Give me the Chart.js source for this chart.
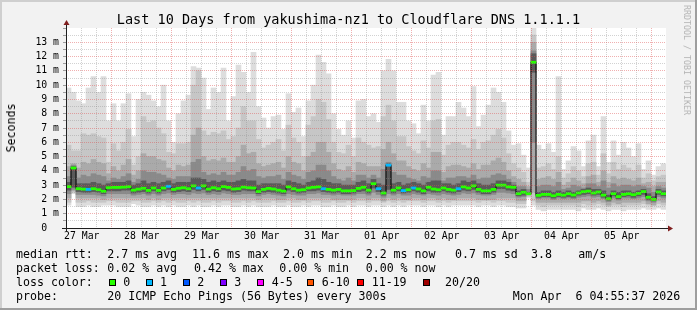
<!DOCTYPE html>
<html>
<head>
<meta charset="utf-8">
<script src="https://cdn.jsdelivr.net/npm/chart.js@4.4.1/dist/chart.umd.min.js"></script>
<style>
html,body{margin:0;padding:0;background:#f2f2f2;}
#wrap{position:relative;width:697px;height:310px;overflow:hidden;}
#c{position:absolute;left:0;top:0;}
.t{position:absolute;font-family:'DejaVu Sans Mono',monospace;white-space:pre;color:#000;}
.box{position:absolute;width:7px;height:7px;box-sizing:border-box;border:1px solid #000;}
</style>
</head>
<body>
<div id="wrap">
<canvas id="c" width="697" height="310"></canvas>
</div>
<script>
// ---------------- data ----------------
const titleText = 'Last 10 Days from yakushima-nz1 to Cloudflare DNS 1.1.1.1';
const yAxisTitle = 'Seconds';
const dayLabels = ['27 Mar','28 Mar','29 Mar','30 Mar','31 Mar','01 Apr','02 Apr','03 Apr','04 Apr','05 Apr'];
const yTickValues = [0,0.5,1,1.5,2,2.5,3,3.5,4,4.5,5,5.5,6,6.5,7,7.5,8,8.5,9,9.5,10,10.5,11,11.5,12,12.5,13,13.5,14];

// median rtt (ms), one value per 2-hour bin
const medianRtt = [
 2.9,4.2,2.75,2.72,2.7,2.75,2.68,2.57,2.82,2.84,
 2.84,2.86,2.89,2.65,2.72,2.78,2.63,2.8,2.63,2.8,
 2.92,2.7,2.78,2.82,2.75,2.95,2.8,2.95,2.72,2.82,
 2.75,2.9,2.84,2.73,2.75,2.86,2.82,2.8,2.55,2.7,
 2.77,2.73,2.65,2.58,2.88,2.75,2.65,2.68,2.8,2.85,
 2.88,2.75,2.7,2.65,2.7,2.6,2.6,2.62,2.77,2.85,
 2.65,3.1,2.75,2.45,4.4,2.65,2.8,2.62,2.68,2.8,
 2.73,2.6,2.85,2.73,2.68,2.8,2.7,2.65,2.75,2.88,
 2.8,2.95,2.7,2.6,2.6,2.7,3.0,3.0,2.88,2.85,
 2.4,2.5,2.4,11.6,2.28,2.35,2.35,2.26,2.35,2.3,
 2.4,2.31,2.45,2.54,2.58,2.45,2.52,2.3,2.05,2.4,
 2.2,2.35,2.4,2.33,2.42,2.55,2.15,2.0,2.52,2.4
];
// packet loss (pings lost of 20) per bin
const lossCount = [
 0,0,0,0,1,0,0,0,0,0,
 0,0,0,0,0,0,0,0,0,0,
 1,0,0,0,0,0,1,0,0,0,
 0,0,0,0,0,0,0,0,0,0,
 0,0,0,0,0,0,0,0,0,0,
 0,1,0,0,0,0,0,0,0,0,
 0,0,1,0,1,0,0,1,0,1,
 0,0,0,0,0,0,0,0,1,0,
 0,0,0,0,0,0,0,0,0,0,
 0,0,0,0,0,0,0,0,0,0,
 0,0,0,0,0,0,0,0,0,0,
 0,0,0,0,0,0,0,0,0,0
];
// smoke: outermost band (min .. max ping)
const smokeLo1 = [
 1.6,2.4,1.5,1.5,1.6,1.5,1.5,1.6,1.6,1.6,
 1.5,1.5,1.5,1.7,1.6,1.5,1.5,1.6,1.5,1.6,
 1.5,1.6,1.5,1.5,1.6,1.5,1.6,1.5,1.5,1.6,
 1.5,1.6,1.6,1.5,1.5,1.6,1.5,1.6,1.5,1.5,
 1.5,1.6,1.5,1.5,1.6,1.5,1.5,1.6,1.5,1.6,
 1.6,1.5,1.5,1.6,1.5,1.5,1.6,1.5,1.6,1.6,
 1.5,1.6,1.6,1.5,1.6,1.5,1.6,1.5,1.6,1.6,
 1.6,1.5,1.6,1.6,1.5,1.6,1.5,1.6,1.6,1.6,
 1.6,1.6,1.5,1.6,1.6,1.5,1.6,1.6,1.5,1.5,
 1.4,1.4,2.1,1.6,1.3,1.2,1.3,1.3,1.3,1.3,
 1.3,1.3,1.2,1.4,1.3,1.3,1.4,1.3,1.2,1.3,
 1.3,1.2,1.3,1.3,1.3,1.4,1.3,1.3,1.4,1.3
];
const smokeHi1 = [
 9.8,9.5,8.9,8.7,9.8,10.6,9.5,10.6,7.5,8.7,
 7.5,8.7,9.4,6.4,9.0,9.5,9.3,8.9,8.5,10.0,
 7.5,6.0,8.0,8.9,9.3,11.3,11.2,10.5,8.3,9.8,
 9.5,11.2,7.5,9.2,11.4,10.9,9.5,12.3,8.5,7.7,
 7.0,7.8,7.9,6.9,9.4,8.1,8.4,6.4,8.9,10.0,
 12.1,11.6,10.8,8.0,6.9,6.5,7.5,6.3,8.9,9.0,
 7.8,8.0,7.4,11.0,11.8,11.0,8.8,8.8,7.5,7.3,
 6.6,8.6,7.5,10.7,10.9,6.5,7.8,7.8,8.8,8.4,
 7.8,9.9,7.1,7.9,8.6,9.8,9.5,8.8,6.8,5.8,
 5.9,5.1,4.2,14.0,5.8,5.5,5.9,5.3,10.6,4.1,
 4.7,5.7,5.4,4.3,6.1,6.5,4.3,7.8,4.6,6.1,
 5.1,6.0,5.6,5.0,5.9,4.1,4.7,3.7,4.3,4.5
];
// second band
const smokeLo2 = [
 1.8,2.5,1.8,1.8,1.9,1.8,1.8,1.8,1.9,1.9,
 1.8,1.8,1.8,1.9,1.9,1.8,1.8,1.9,1.8,1.9,
 1.8,1.9,1.8,1.8,1.9,1.8,1.9,1.8,1.8,1.9,
 1.8,1.9,1.9,1.8,1.8,1.9,1.8,1.9,1.8,1.8,
 1.8,1.9,1.8,1.8,1.9,1.8,1.8,1.9,1.8,1.9,
 1.9,1.8,1.8,1.9,1.8,1.8,1.9,1.8,1.9,1.9,
 1.8,1.9,1.9,1.8,1.9,1.8,1.9,1.8,1.9,1.9,
 1.9,1.8,1.9,1.9,1.8,1.9,1.8,1.9,1.9,1.9,
 1.9,1.9,1.8,1.9,1.9,1.8,1.9,1.9,1.8,1.8,
 1.7,1.7,2.2,1.9,1.6,1.5,1.6,1.6,1.6,1.6,
 1.6,1.6,1.5,1.7,1.6,1.6,1.7,1.6,1.5,1.6,
 1.6,1.5,1.6,1.6,1.6,1.7,1.6,1.6,1.7,1.6
];
const smokeHi2 = [
 5.8,5.4,5.4,6.6,6.5,6.6,6.4,6.3,4.6,5.9,
 5.4,6.0,6.9,4.4,5.0,7.8,7.4,7.5,7.0,6.6,
 5.3,5.2,5.9,5.9,6.0,10.0,11.0,6.8,6.5,6.7,
 6.6,6.8,6.2,6.4,7.0,8.5,7.5,7.5,6.2,5.6,
 5.8,6.0,6.2,5.4,7.2,6.3,6.0,5.0,7.2,7.8,
 9.0,8.8,7.6,6.0,5.3,5.2,5.8,5.0,6.3,6.0,
 5.8,5.6,5.7,7.8,8.6,7.5,6.4,6.4,5.7,5.4,
 5.2,6.1,5.6,7.5,7.6,5.1,5.8,6.0,6.0,5.8,
 5.6,6.2,5.5,6.0,6.1,6.5,6.9,6.3,5.2,4.5,
 4.2,3.9,3.2,13.5,4.2,4.3,4.5,4.1,5.0,3.5,
 3.8,4.3,4.0,3.6,4.5,4.6,3.7,5.2,3.8,4.6,
 4.1,4.4,4.2,4.0,4.4,3.5,3.8,3.3,3.6,3.7
];
// third band
const smokeLo3 = [
 2.1,2.6,2.1,2.1,2.1,2.1,2.1,2.0,2.1,2.1,
 2.1,2.1,2.1,2.1,2.1,2.1,2.0,2.1,2.0,2.1,
 2.1,2.1,2.1,2.1,2.1,2.1,2.1,2.1,2.1,2.1,
 2.1,2.1,2.1,2.1,2.1,2.1,2.1,2.1,2.0,2.1,
 2.1,2.1,2.0,2.0,2.1,2.1,2.0,2.0,2.1,2.1,
 2.1,2.1,2.1,2.0,2.0,2.0,2.0,2.0,2.1,2.1,
 2.0,2.1,2.1,1.9,2.1,2.0,2.1,2.0,2.0,2.1,
 2.1,2.0,2.1,2.1,2.0,2.1,2.0,2.0,2.1,2.1,
 2.1,2.1,2.0,2.0,2.0,2.0,2.1,2.1,2.1,2.1,
 1.9,1.9,2.3,2.5,1.8,1.8,1.8,1.8,1.8,1.8,
 1.8,1.8,1.8,1.9,1.9,1.8,1.9,1.8,1.6,1.8,
 1.7,1.8,1.8,1.8,1.8,1.9,1.7,1.6,1.9,1.8
];
const smokeHi3 = [
 4.3,4.5,4.2,4.6,4.5,4.8,4.6,4.5,3.8,4.3,
 4.0,4.4,4.8,3.7,4.0,5.2,5.0,5.0,4.8,4.7,
 4.2,4.0,4.4,4.3,4.4,6.5,7.0,5.0,4.7,4.8,
 4.7,4.9,4.6,4.6,5.0,5.8,5.2,5.3,4.5,4.3,
 4.4,4.5,4.6,4.2,5.0,4.6,4.5,4.0,5.0,5.3,
 6.0,6.0,5.3,4.5,4.1,4.0,4.3,3.9,4.6,4.5,
 4.3,4.3,4.3,5.5,6.0,5.2,4.7,4.7,4.3,4.1,
 4.0,4.5,4.2,5.3,5.3,3.9,4.3,4.4,4.4,4.3,
 4.2,4.5,4.1,4.4,4.4,4.7,4.9,4.6,4.0,3.6,
 3.4,3.2,2.9,13.0,3.4,3.5,3.6,3.4,3.9,3.0,
 3.2,3.5,3.3,3.1,3.6,3.7,3.2,4.0,3.2,3.6,
 3.4,3.5,3.4,3.3,3.5,3.1,3.2,2.9,3.2,3.2
];
// fourth band
const smokeLo4 = [
 2.4,2.7,2.35,2.35,2.35,2.35,2.3,2.25,2.4,2.4,
 2.4,2.4,2.4,2.3,2.35,2.4,2.3,2.4,2.3,2.4,
 2.45,2.35,2.4,2.4,2.35,2.45,2.4,2.45,2.35,2.4,
 2.35,2.45,2.4,2.35,2.35,2.4,2.4,2.4,2.25,2.35,
 2.4,2.35,2.3,2.25,2.4,2.35,2.3,2.3,2.4,2.4,
 2.45,2.35,2.35,2.3,2.35,2.3,2.3,2.3,2.4,2.4,
 2.3,2.5,2.35,2.15,2.4,2.3,2.4,2.3,2.3,2.4,
 2.35,2.3,2.4,2.35,2.3,2.4,2.35,2.3,2.35,2.45,
 2.4,2.45,2.35,2.3,2.3,2.35,2.5,2.5,2.45,2.4,
 2.15,2.2,2.35,6.0,2.05,2.1,2.1,2.0,2.1,2.05,
 2.1,2.05,2.15,2.2,2.25,2.15,2.2,2.05,1.85,2.1,
 1.95,2.1,2.1,2.05,2.1,2.2,1.9,1.8,2.2,2.1
];
const smokeHi4 = [
 3.6,4.4,3.5,3.7,3.6,3.8,3.7,3.6,3.3,3.5,
 3.4,3.6,3.8,3.2,3.4,4.0,3.9,3.9,3.8,3.7,
 3.5,3.4,3.6,3.6,3.6,4.6,4.8,3.9,3.7,3.8,
 3.7,3.9,3.7,3.7,3.9,4.3,4.0,4.1,3.6,3.5,
 3.6,3.6,3.7,3.4,3.9,3.7,3.6,3.4,3.9,4.0,
 4.4,4.4,4.0,3.6,3.4,3.3,3.5,3.3,3.7,3.7,
 3.5,3.7,3.5,4.1,4.6,3.9,3.7,3.7,3.5,3.4,
 3.3,3.6,3.5,4.0,4.0,3.3,3.5,3.5,3.6,3.6,
 3.5,3.7,3.4,3.5,3.5,3.7,3.8,3.7,3.4,3.2,
 2.9,2.9,2.7,12.4,2.9,3.0,3.0,2.9,3.2,2.7,
 2.8,3.0,2.9,2.8,3.1,3.1,2.9,3.3,2.8,3.1,
 2.9,3.0,3.0,2.9,3.0,2.9,2.8,2.5,2.9,2.8
];
// innermost band (around the median)
const smokeLo5 = [
 2.65,2.85,2.55,2.5,2.5,2.55,2.5,2.4,2.6,2.6,
 2.6,2.65,2.65,2.45,2.5,2.55,2.45,2.6,2.45,2.6,
 2.7,2.5,2.55,2.6,2.55,2.7,2.6,2.7,2.5,2.6,
 2.55,2.65,2.6,2.5,2.55,2.65,2.6,2.6,2.4,2.5,
 2.55,2.5,2.45,2.4,2.65,2.55,2.45,2.5,2.6,2.6,
 2.65,2.55,2.5,2.45,2.5,2.4,2.4,2.45,2.55,2.6,
 2.45,2.8,2.55,2.3,2.7,2.45,2.6,2.45,2.5,2.6,
 2.5,2.4,2.6,2.5,2.5,2.6,2.5,2.45,2.55,2.65,
 2.6,2.7,2.5,2.4,2.4,2.5,2.75,2.75,2.65,2.6,
 2.25,2.3,2.4,10.9,2.15,2.2,2.2,2.1,2.2,2.15,
 2.2,2.15,2.3,2.35,2.4,2.3,2.35,2.15,1.95,2.25,
 2.05,2.2,2.25,2.15,2.25,2.35,2.0,1.9,2.35,2.25
];
const smokeHi5 = [
 3.2,4.3,3.1,3.1,3.1,3.2,3.1,3.0,3.1,3.2,
 3.2,3.2,3.3,3.0,3.1,3.3,3.1,3.2,3.1,3.2,
 3.3,3.1,3.2,3.2,3.2,3.5,3.5,3.4,3.2,3.3,
 3.2,3.3,3.2,3.2,3.3,3.4,3.3,3.3,3.0,3.1,
 3.1,3.1,3.1,3.0,3.3,3.2,3.1,3.0,3.2,3.3,
 3.5,3.4,3.2,3.1,3.1,3.0,3.0,3.0,3.2,3.3,
 3.1,3.4,3.1,3.0,4.5,3.1,3.2,3.0,3.1,3.2,
 3.1,3.0,3.2,3.3,3.3,3.1,3.1,3.0,3.1,3.3,
 3.2,3.3,3.1,3.0,3.0,3.1,3.3,3.3,3.2,3.0,
 2.6,2.7,2.5,12.2,2.5,2.6,2.6,2.5,2.6,2.5,
 2.6,2.5,2.6,2.7,2.8,2.7,2.7,2.6,2.3,2.6,
 2.5,2.6,2.6,2.5,2.6,2.7,2.4,2.2,2.7,2.6
];

// legend texts
const legendRows = [
 [[16,'median rtt:'],[107.3,'2.7 ms avg'],[192,'11.6 ms max'],[283,'2.0 ms min'],[365.7,'2.2 ms now'],[455,'0.7 ms sd'],[531,'3.8'],[578.3,'am/s']],
 [[16,'packet loss:'],[107.3,'0.02 % avg'],[194,'0.42 % max'],[279.3,'0.00 % min'],[365.7,'0.00 % now']],
 [[16,'loss color:']],
 [[16,'probe:'],[107.3,'20 ICMP Echo Pings (56 Bytes) every 300s'],[512.7,'Mon Apr  6 04:55:37 2026']]
];
const lossLegend = [['0','#26ff00'],['1','#00b8ff'],['2','#0059ff'],['3','#7e00ff'],['4-5','#ff00ff'],['6-10','#ff5500'],['11-19','#ff0000'],['20/20','#a00000']];
const lossColors = ['#26ff00','#00b8ff','#0059ff','#7e00ff','#ff00ff','#ff00ff','#ff5500','#ff5500'];

// ---------------- layout / styles ----------------
const HOURS = 240, BIN_H = 2;
const FIRST_MIDNIGHT = 18.3;   // hours after start of plot
const FONT = "'DejaVu Sans Mono', monospace";
const centers = medianRtt.map((_, i) => i * BIN_H + BIN_H / 2);
const gridHours = [];
for (let h = FIRST_MIDNIGHT - 18; h < HOURS; h += 6) gridHours.push(+h.toFixed(2));
const isMidnight = v => Math.abs(((v - FIRST_MIDNIGHT) % 24 + 24) % 24) < 0.01;
const dayIndex = v => { const k = (v - (FIRST_MIDNIGHT - 12)) / 24; return Math.abs(k - Math.round(k)) < 0.01 ? Math.round(k) : -1; };
const MGRID = 'rgba(222,79,79,0.45)', GRID = 'rgba(143,143,143,0.4)';

const wrap = document.getElementById('wrap');
function addText(txt, css) { const d = document.createElement('div'); d.className = 't'; d.textContent = txt; d.style.cssText += css; wrap.appendChild(d); return d; }
addText(titleText, 'left:0;width:697px;text-align:center;top:11.3px;font-size:13.5px;line-height:16px;');
addText(yAxisTitle, 'left:10.5px;top:127.5px;font-size:11.6px;line-height:14px;transform:translate(-50%,-50%) rotate(-90deg);');
addText('RRDTOOL / TOBI OETIKER', 'left:687px;top:60px;font-size:8.3px;line-height:10px;color:#b4b4b4;transform:translate(-50%,-50%) rotate(90deg);');
const rowTops = [246.7, 260.7, 274.7, 288.7];
legendRows.forEach((row, r) => row.forEach(([x, s]) => addText(s, `left:${x}px;top:${rowTops[r]}px;font-size:11.6px;line-height:14px;`)));
const boxX = [108.7,145.7,182.7,220,257.3,307.3,357.3,422.7];
const labX = [123.3,160,197.3,234.3,271.7,321.7,371.7,445];
lossLegend.forEach(([lab, col], i) => {
  const b = document.createElement('div'); b.className = 'box';
  b.style.left = boxX[i] + 'px'; b.style.top = '278.5px'; b.style.background = col; wrap.appendChild(b);
  addText(lab, `left:${labX[i]}px;top:${rowTops[2]}px;font-size:11.6px;line-height:14px;`);
});

const frame = {
  id: 'frame',
  beforeDraw(chart) {
    const {ctx, chartArea: a, width: W, height: H} = chart;
    ctx.save();
    ctx.fillStyle = '#f2f2f2'; ctx.fillRect(0, 0, W, H);
    ctx.fillStyle = '#cfcfcf'; ctx.fillRect(0, 0, W, 2); ctx.fillRect(0, 0, 2, H);
    ctx.fillStyle = '#9e9e9e'; ctx.fillRect(0, H - 2, W, 2); ctx.fillRect(W - 2, 0, 2, H);
    ctx.fillStyle = '#ffffff'; ctx.fillRect(a.left, a.top, a.right - a.left, a.bottom - a.top);
    ctx.restore();
  },
  afterDraw(chart) {
    const {ctx, chartArea: a} = chart;
    ctx.save();
    ctx.strokeStyle = '#1f1f1f'; ctx.lineWidth = 1;
    ctx.beginPath();
    ctx.moveTo(a.left + 0.5, a.bottom + 4); ctx.lineTo(a.left + 0.5, a.top - 4);
    ctx.moveTo(a.left - 4, a.bottom + 0.5); ctx.lineTo(a.right + 2, a.bottom + 0.5);
    ctx.stroke();
    ctx.fillStyle = '#801f1f';
    ctx.beginPath();
    ctx.moveTo(a.left - 2.5, a.top - 3); ctx.lineTo(a.left + 3.5, a.top - 3); ctx.lineTo(a.left + 0.5, a.top - 8); ctx.closePath(); ctx.fill();
    ctx.beginPath();
    ctx.moveTo(a.right + 2, a.bottom - 2.5); ctx.lineTo(a.right + 2, a.bottom + 3.5); ctx.lineTo(a.right + 7, a.bottom + 0.5); ctx.closePath(); ctx.fill();
    ctx.restore();
  }
};

const bands = [
  [smokeLo1, smokeHi1, '#dddddd'],
  [smokeLo2, smokeHi2, '#c6c6c6'],
  [smokeLo3, smokeHi3, '#aaaaaa'],
  [smokeLo4, smokeHi4, '#8a8a8a'],
  [smokeLo5, smokeHi5, '#5a5a5a']
];
const datasets = bands.map(([lo, hi, col], k) => ({
  type: 'bar',
  data: centers.map((x, i) => ({x, y: [lo[i], hi[i]]})),
  backgroundColor: col, borderWidth: 0, grouped: false,
  barPercentage: 1, categoryPercentage: 1, order: 10 - k
}));
datasets.push({
  type: 'line',
  data: centers.map((x, i) => ({x, y: medianRtt[i]})),
  stepped: 'middle', borderColor: '#000000', borderWidth: 1, pointRadius: 0, order: 2
});
datasets.push({
  type: 'bar',
  data: centers.map((x, i) => ({x, y: [medianRtt[i] - 0.075, medianRtt[i] + 0.075]})),
  backgroundColor: lossCount.map(l => lossColors[Math.min(l, lossColors.length - 1)]),
  borderWidth: 0, grouped: false, barPercentage: 1, categoryPercentage: 1, order: 1
});

new Chart(document.getElementById('c'), {
  type: 'bar',
  data: {datasets},
  plugins: [frame],
  options: {
    responsive: false, devicePixelRatio: 1, animation: false,
    layout: {autoPadding: false, padding: {left: 0, right: 31, top: 28, bottom: 50}},
    plugins: {legend: {display: false}, tooltip: {enabled: false}, title: {display: false}},
    scales: {
      x: {
        type: 'linear', min: 0, max: HOURS, offset: false,
        afterBuildTicks: s => { s.ticks = gridHours.map(v => ({value: v})); },
        afterFit: s => { s.height = 32; },
        ticks: {
          autoSkip: false, maxRotation: 0, padding: 3, color: '#000',
          font: {family: FONT, size: 9.8},
          callback: v => { const k = dayIndex(v); return k >= 0 && k < dayLabels.length ? dayLabels[k] : ''; }
        },
        grid: {
          offset: false, drawTicks: false, z: 1, lineWidth: 1,
          color: c => (c.tick && isMidnight(c.tick.value)) ? MGRID : GRID
        },
        border: {display: false, dash: [1, 1]}
      },
      y: {
        type: 'linear', min: 0, max: 14,
        afterBuildTicks: s => { s.ticks = yTickValues.map(v => ({value: v})); },
        afterFit: s => { s.width = 66; },
        ticks: {
          autoSkip: false, padding: 4, color: '#000',
          font: {family: FONT, size: 9.8},
          callback: v => (v === 0 ? '0  ' : (Number.isInteger(v) && v < 14 ? v + ' m' : ''))
        },
        grid: {
          drawTicks: true, tickLength: 3, z: 1, lineWidth: 1,
          tickColor: 'rgba(100,100,100,0.6)',
          color: c => {
            const v = c.tick ? c.tick.value : 0;
            if (v === 0 || v === 14) return 'rgba(0,0,0,0)';
            return Number.isInteger(v) ? MGRID : GRID;
          }
        },
        border: {display: false, dash: [1, 1]}
      }
    }
  }
});
</script>
</body>
</html>
